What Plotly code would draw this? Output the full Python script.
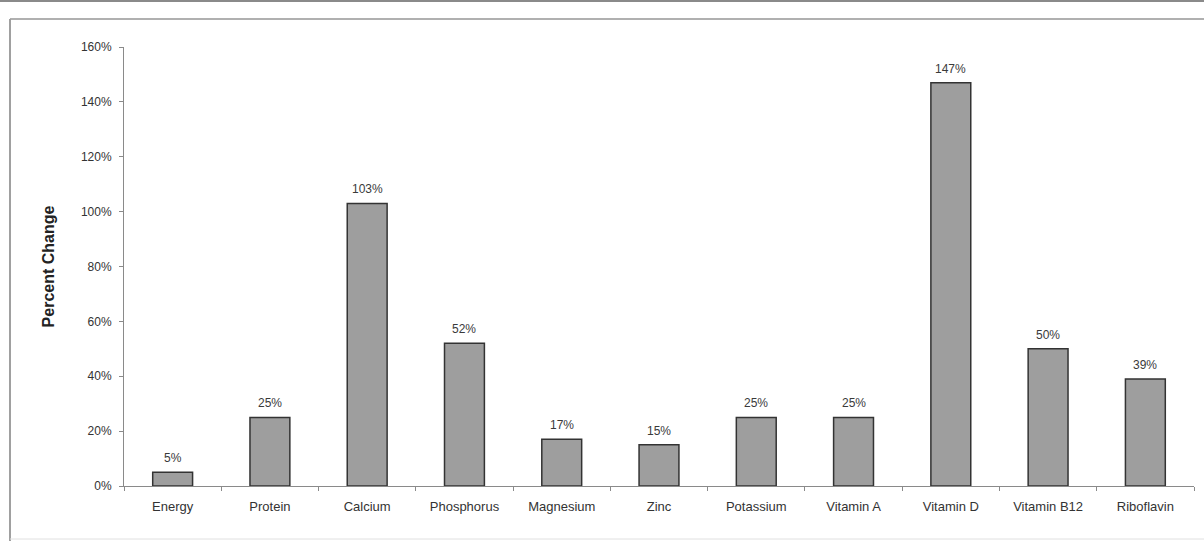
import plotly.graph_objects as go

categories = ["Energy", "Protein", "Calcium", "Phosphorus", "Magnesium", "Zinc",
              "Potassium", "Vitamin A", "Vitamin D", "Vitamin B12", "Riboflavin"]
values = [5, 25, 103, 52, 17, 15, 25, 25, 147, 50, 39]
labels = [f"{v}%" for v in values]
y_ticks = [0, 20, 40, 60, 80, 100, 120, 140, 160]
y_tick_text = [f"{t}%" for t in y_ticks]

FONT = "Arial, Liberation Sans, sans-serif"

fig = go.Figure()
fig.add_trace(go.Bar(
    x=categories, y=values,
    marker=dict(color="#9e9e9e", line=dict(color="#333333", width=1.5)),
    width=0.41,
))

for c, v, t in zip(categories, values, labels):
    fig.add_annotation(x=c, y=v, text=t, showarrow=False, yanchor="bottom",
                       yshift=5, font=dict(family=FONT, size=12, color="#3a3a3a"))

fig.update_layout(
    width=1204, height=542,
    margin=dict(l=124, r=10, t=47, b=56),
    paper_bgcolor="white", plot_bgcolor="white",
    showlegend=False,
    font=dict(family=FONT, size=12, color="#333333"),
    xaxis=dict(
        showline=True, linecolor="#8a8a8a", linewidth=1,
        ticks="outside", ticklen=4, tickcolor="#8a8a8a", tickson="boundaries",
        showgrid=False, tickfont=dict(size=13, color="#333333"),
        ticklabelstandoff=8,
    ),
    yaxis=dict(
        range=[0, 160], tickvals=y_ticks, ticktext=y_tick_text,
        showline=True, linecolor="#8a8a8a", linewidth=1,
        ticks="outside", ticklen=4, tickcolor="#8a8a8a",
        showgrid=False, zeroline=False,
        tickfont=dict(size=12, color="#333333"),
        ticklabelstandoff=5,
        title=dict(text="<b>Percent Change</b>", font=dict(size=16, color="#222222"), standoff=22),
    ),
)

pw = 1204 - 124 - 10
ph = 542 - 47 - 56
def px_x(x):
    return (x - 124) / pw
def px_y(y):
    return (542 - 56 - y) / ph

fig.add_shape(type="line", xref="paper", yref="paper",
              x0=px_x(0), x1=px_x(1204), y0=px_y(1), y1=px_y(1),
              line=dict(color="#8a8a8a", width=2))
fig.add_shape(type="line", xref="paper", yref="paper",
              x0=px_x(10), x1=px_x(1204), y0=px_y(19), y1=px_y(19),
              line=dict(color="#b0b0b0", width=2))
fig.add_shape(type="line", xref="paper", yref="paper",
              x0=px_x(10), x1=px_x(10), y0=px_y(19), y1=px_y(541),
              line=dict(color="#a0a0a0", width=2))
fig.add_shape(type="line", xref="paper", yref="paper",
              x0=px_x(10), x1=px_x(1204), y0=px_y(539), y1=px_y(539),
              line=dict(color="#e0e0e0", width=1))

fig.write_html("out.html", config={"displayModeBar": False},
               post_script="document.body.style.margin='0';document.body.style.overflow='hidden';")
